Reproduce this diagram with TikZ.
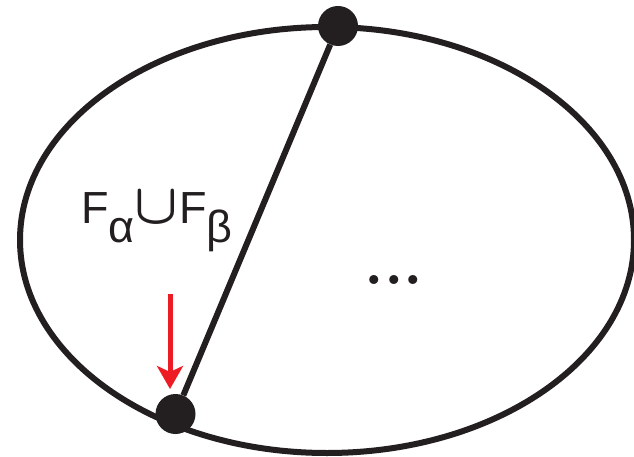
\documentclass[tikz,border=0pt]{standalone}
\usepackage{fontspec}
\usepackage{graphicx}
\setmainfont{Liberation Sans}
\newfontfamily\dotfont{Latin Modern Roman}
\usetikzlibrary{arrows.meta}
\definecolor{arrred}{RGB}{237,28,36}
\definecolor{ink}{RGB}{35,31,32}
\tikzset{
  outline/.style={draw=ink, line width=6pt},
  vdot/.style={circle, fill=ink, inner sep=0pt, minimum size=40pt},
  edgeline/.style={draw=ink, line width=6pt},
  redarrow/.style={draw=arrred, line width=5pt, -{Stealth[length=23pt,width=26pt,inset=6pt]}},
  lbl/.style={inner sep=0pt, text=ink, font=\fontsize{45}{45}\selectfont},
  dotsfont/.style={inner sep=0pt, text=ink, font=\dotfont\fontsize{110}{110}\selectfont}
}
\newcommand{\bigunion}{\scalebox{5.7}{\normalsize\boldmath$\cup$}}
\begin{document}
\begin{tikzpicture}[x=1pt,y=-1pt]
\useasboundingbox (0,0) rectangle (634,457);
\draw[outline] (327,240) ellipse [x radius=307pt, y radius=213pt];
\node[vdot] (top) at (338,26) {};
\node[vdot] (bot) at (175.5,414) {};
\draw[edgeline] (top) -- (bot);
\coordinate (arrtail) at (170,294);
\coordinate (arrtip) at (170,389);
\draw[redarrow] (arrtail) -- (arrtip);
\node[lbl, anchor=base west] (label) at (81,223) {\rlap{F}\hspace{27pt}\rlap{\raisebox{-19pt}{α}}\hspace{48.5pt}\makebox[0pt]{\bigunion}\hspace{23pt}\rlap{F}\hspace{27pt}\raisebox{-19pt}{β}};
\node[dotsfont, anchor=base] (dots) at (394,284) {.\kern-8pt.\kern-8pt.};
\end{tikzpicture}
\end{document}
